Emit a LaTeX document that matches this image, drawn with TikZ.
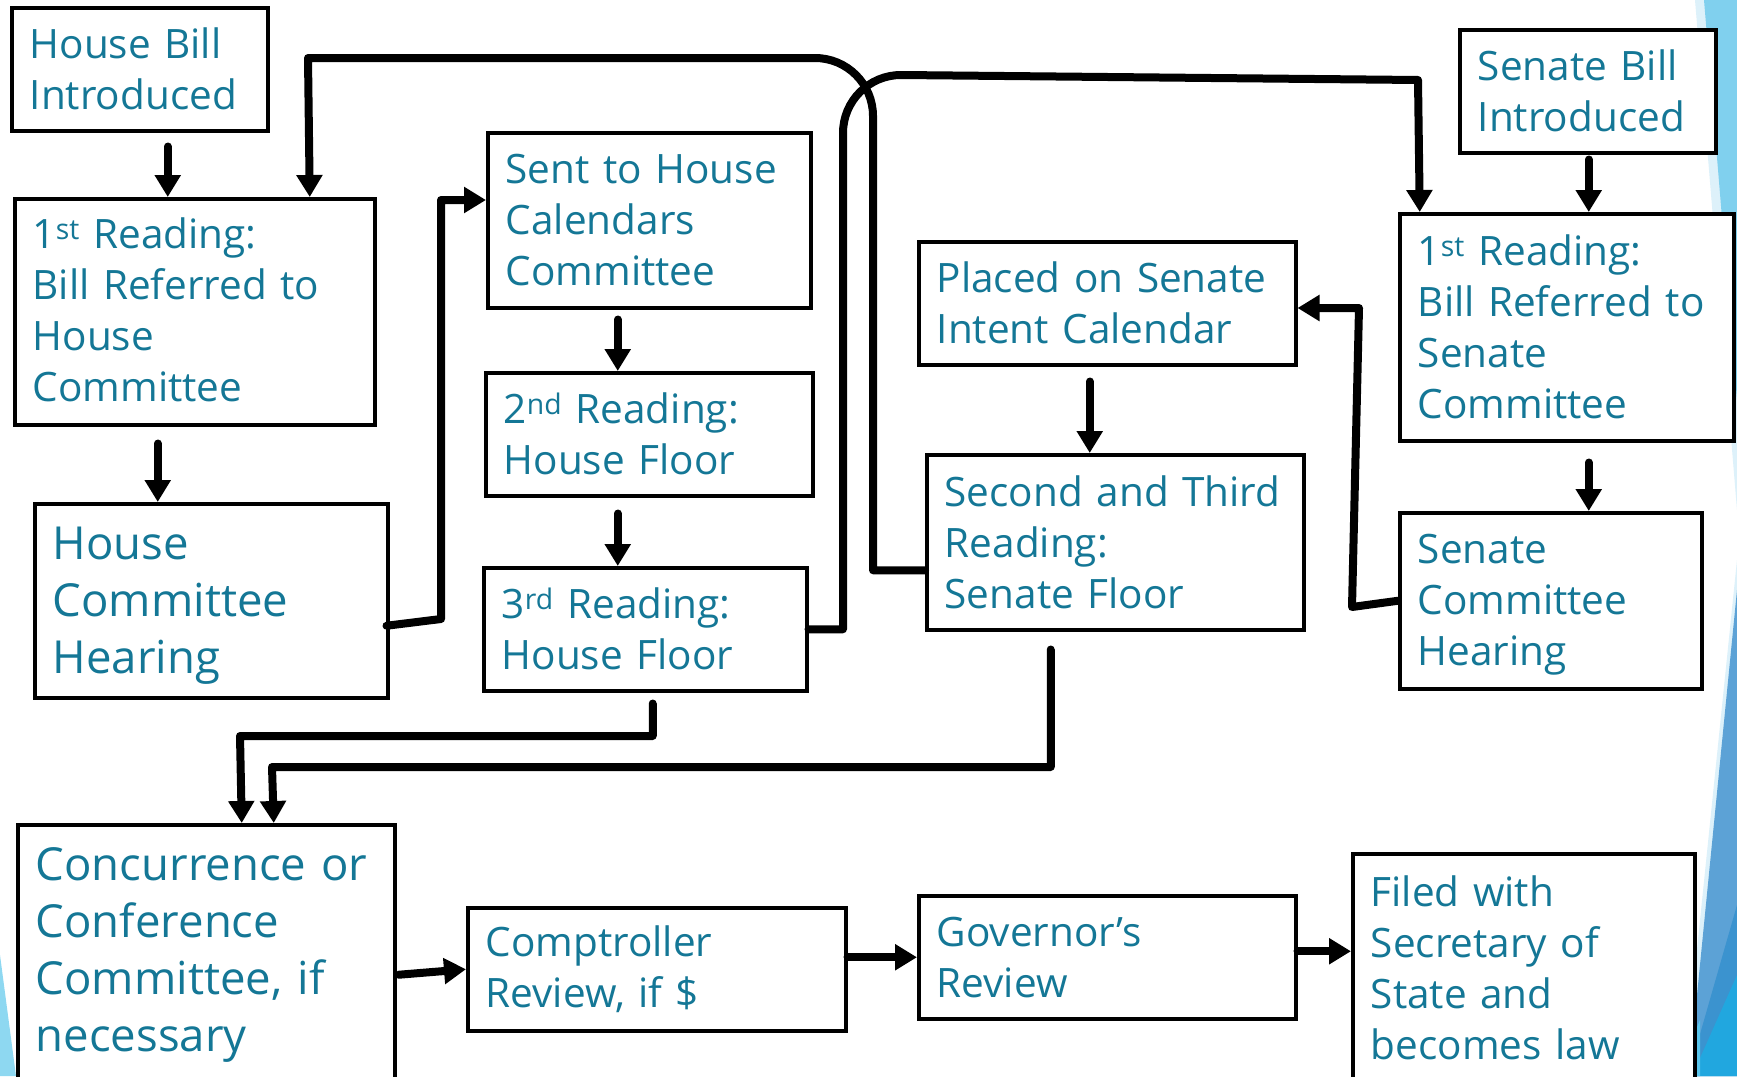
\documentclass[tikz,border=0pt]{standalone}
\usepackage{fontspec}
\setmainfont{Open Sans}
\usetikzlibrary{arrows.meta,calc}
\definecolor{txt}{RGB}{20,119,150}
\definecolor{vlight}{RGB}{221,241,250}
\definecolor{lblue}{RGB}{128,208,238}
\definecolor{mblue}{RGB}{92,162,214}
\definecolor{dblue}{RGB}{59,147,207}
\definecolor{cyanb}{RGB}{33,167,223}
\definecolor{lcyan}{RGB}{91,197,236}
\definecolor{blcorner}{RGB}{142,216,241}
\begin{document}
\begin{tikzpicture}[x=1pt,y=-1pt,
  box/.style={draw=black,line width=3.5pt,fill=white,align=left,inner xsep=18pt,inner ysep=0pt,
    text=txt,font=\fontsize{40.5}{51}\selectfont,anchor=north west},
  bigtext/.style={font=\fontsize{45.5}{57}\selectfont},
  arr/.style={line width=8pt,line cap=round,line join=round,-{Triangle[length=22pt,width=25pt]}}]
\useasboundingbox (0,0) rectangle (1737,1076);
\fill[white] (0,0) rectangle (1737,1076);
% decoration
\fill[vlight] (1695,0) -- (1737,0) -- (1737,510) -- cycle;
\fill[lblue] (1704,0) -- (1737,0) -- (1737,400) -- cycle;
\fill[vlight] (1737,560) -- (1737,1076) -- (1684,1076) -- cycle;
\fill[mblue] (1737,590) -- (1737,1076) -- (1689,1076) -- cycle;
\fill[dblue] (1737,905) -- (1737,1076) -- (1688,1076) -- cycle;
\fill[cyanb] (1737,975) -- (1737,1076) -- (1692,1076) -- cycle;
\fill[lcyan] (1676,1076) -- (1700,1020) -- (1700,1076) -- cycle;
\fill[blcorner] (0,955) -- (16,1076) -- (0,1076) -- cycle;
% boxes
\node[box,minimum width=256pt,minimum height=123pt,text width=220pt] (hb) at (10,6) {House Bill\\Introduced};
\node[box,minimum width=360pt,minimum height=226pt,text width=324pt] (r1h) at (13,197) {1\textsuperscript{st} Reading:\\\mbox{Bill Referred to}\\House\\Committee\rule[-4pt]{0pt}{0pt}};
\node[box,bigtext,minimum width=353pt,minimum height=194pt,text width=317pt] (hch) at (33,502) {\rule{0pt}{41.5pt}House\\Committee\\Hearing};
\node[box,minimum width=323pt,minimum height=175pt,text width=287pt] (sent) at (486,131) {\mbox{Sent to House}\\Calendars\\Committee};
\node[box,minimum width=327pt,minimum height=123pt,text width=291pt] (r2) at (484,371) {2\textsuperscript{nd} Reading:\\House Floor};
\node[box,minimum width=323pt,minimum height=123pt,text width=287pt] (r3) at (482,566) {3\textsuperscript{rd} Reading:\\House Floor};
\node[box,minimum width=377pt,minimum height=123pt,text width=341pt] (pl) at (917,240) {\mbox{Placed on Senate}\\\mbox{Intent Calendar}};
\node[box,minimum width=377pt,minimum height=175pt,text width=341pt] (sst) at (925,453) {\mbox{Second and Third}\\Reading:\\Senate Floor};
\node[box,minimum width=256pt,minimum height=123pt,text width=220pt] (sbi) at (1458,28) {Senate Bill\\Introduced};
\node[box,minimum width=334pt,minimum height=227pt,text width=298pt] (r1s) at (1398,212) {1\textsuperscript{st} Reading:\\\mbox{Bill Referred to}\\Senate\\Committee};
\node[box,minimum width=302pt,minimum height=176pt,text width=266pt] (sch) at (1398,511) {\rule{0pt}{36.5pt}Senate\\Committee\\Hearing};
\node[box,bigtext,minimum width=377pt,minimum height=254pt,text width=341pt] (conc) at (16,823) {\rule{0pt}{40pt}\mbox{Concurrence or}\\Conference\\\mbox{Committee, if}\\necessary};
\node[box,minimum width=378pt,minimum height=123pt,text width=342pt] (comp) at (466,906) {Comptroller\\\mbox{Review, if \$}};
\node[box,minimum width=377pt,minimum height=123pt,text width=341pt] (gov) at (917,894) {Governor’s\\Review};
\node[box,minimum width=342pt,minimum height=228pt,text width=306pt] (filed) at (1351,852) {Filed with\\\mbox{Secretary of}\\State and\\\mbox{becomes law}};
% connectors
\draw[arr] ([shift={(28,14)}]hb.south) -- ([xshift=-27pt]r1h.north);
\draw[arr] ([shift={(-37,17)}]r1h.south) -- ([xshift=-53.5pt]hch.north);
\draw[arr] ([shift={(-3,25)}]hch.east) -- (441,619) -- (441,200) -- (sent.west |- 0,200);
\draw[arr] ([shift={(-31.5,10)}]sent.south) -- ([xshift=-31.5pt]r2.north);
\draw[arr] ([shift={(-31.5,16)}]r2.south) -- ([xshift=-27.5pt]r3.north);
\draw[arr] (r3.east) -| (843,133) .. controls (843,101) and (869,75) .. (901,75) -- (1418,80) -- ([xshift=-147pt]r1s.north);
\draw[arr] ([shift={(0,28)}]sst.west) -| (873,116) .. controls (873,84) and (847,58) .. (815,58) -- (308,58) -- ([xshift=115pt]r1h.north);
\draw[arr] ([shift={(1,5)}]sbi.south) -- ([xshift=22pt]r1s.north);
\draw[arr] ([shift={(22,20)}]r1s.south) -- ([xshift=38pt]sch.north);
\draw[arr] (sch.west) -- (1352,607) -- (1359,308) -- (pl.east |- 0,308);
\draw[arr] ([shift={(-17.5,15)}]pl.south) -- ([xshift=-25.5pt]sst.north);
\draw[arr] ([shift={(7.5,11)}]r3.south) |- (240,736) -- ([xshift=35.5pt]conc.north);
\draw[arr] ([shift={(-64.5,18)}]sst.south) |- (272,767) -- ([xshift=67.5pt]conc.north);
\draw[arr] ([shift={(2,23)}]conc.east) -- (comp.west);
\draw[arr] (comp.east |- gov.west) -- (gov.west);
\draw[arr] ([yshift=6pt]gov.east) coordinate (p0) -- (p0 -| filed.west);
\end{tikzpicture}
\end{document}
